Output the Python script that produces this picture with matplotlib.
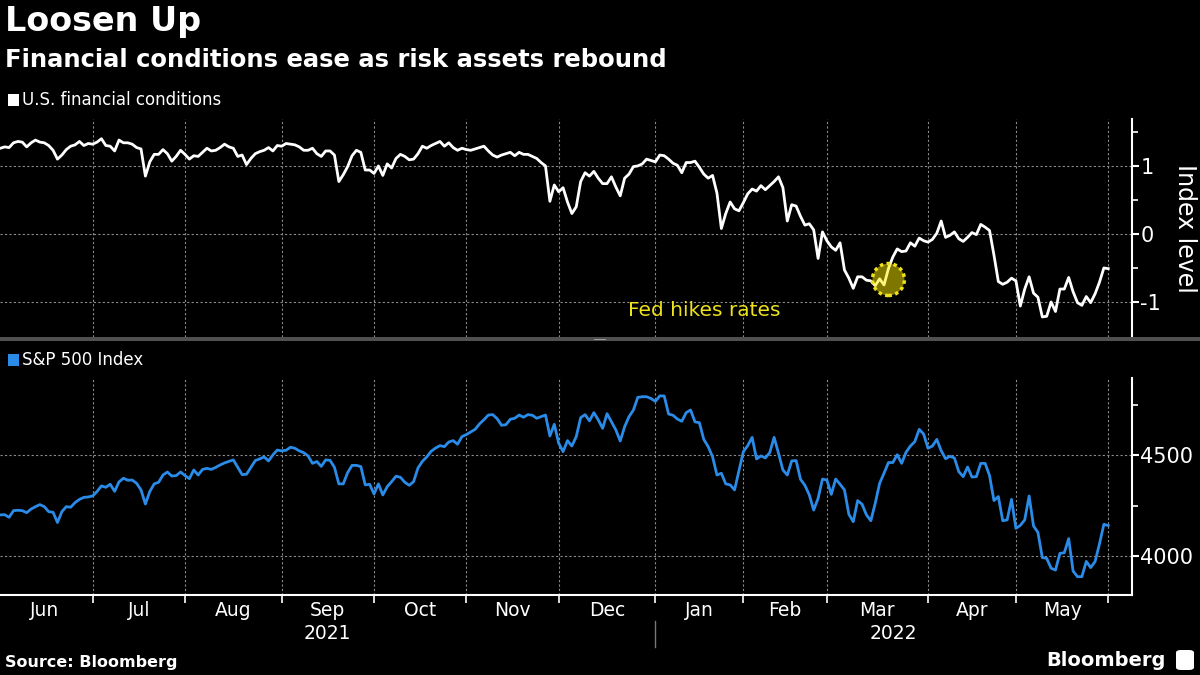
import numpy as np
import pandas as pd
import matplotlib
matplotlib.use('Agg')
from matplotlib import pyplot as plt
from matplotlib import transforms
from matplotlib.patches import Circle, Rectangle, FancyBboxPatch
from matplotlib.lines import Line2D

plt.rcParams['font.family'] = ['DejaVu Sans']
plt.rcParams['axes.unicode_minus'] = False

# NYSE trading days, Jun 2021 - May 2022
holidays = ['2021-07-05', '2021-09-06', '2021-11-25', '2021-12-24',
            '2022-01-17', '2022-02-21', '2022-04-15', '2022-05-30']
dates = pd.bdate_range('2021-06-01', '2022-05-31', freq='C', holidays=holidays)

# Bloomberg US financial conditions index
fci_jun21 = [1.26, 1.28, 1.27, 1.34, 1.36, 1.35, 1.28, 1.34, 1.38, 1.35, 1.34,
             1.30, 1.23, 1.10, 1.16, 1.24, 1.29, 1.31, 1.36, 1.30, 1.33, 1.32]
fci_jul21 = [1.35, 1.40, 1.30, 1.29, 1.22, 1.38, 1.34, 1.34, 1.32, 1.27, 1.25,
             0.85, 1.06, 1.17, 1.17, 1.24, 1.18, 1.07, 1.14, 1.23, 1.17]
fci_aug21 = [1.10, 1.15, 1.14, 1.20, 1.26, 1.22, 1.23, 1.27, 1.32, 1.28, 1.26,
             1.14, 1.16, 1.02, 1.11, 1.18, 1.21, 1.23, 1.27, 1.22, 1.30, 1.29]
fci_sep21 = [1.33, 1.32, 1.31, 1.28, 1.23, 1.23, 1.26, 1.18, 1.14, 1.22, 1.22,
             1.16, 0.77, 0.87, 0.99, 1.15, 1.23, 1.20, 0.94, 0.94, 0.89]
fci_oct21 = [1.00, 0.86, 1.03, 0.97, 1.11, 1.17, 1.14, 1.09, 1.10, 1.18, 1.29,
             1.26, 1.30, 1.33, 1.36, 1.29, 1.34, 1.27, 1.23, 1.26, 1.24]
fci_nov21 = [1.23, 1.25, 1.27, 1.29, 1.22, 1.16, 1.13, 1.16, 1.18, 1.20, 1.15,
             1.20, 1.17, 1.17, 1.14, 1.11, 1.05, 1.00, 0.48, 0.72, 0.62]
fci_dec21 = [0.68, 0.47, 0.30, 0.40, 0.77, 0.90, 0.85, 0.92, 0.82, 0.74, 0.74,
             0.84, 0.69, 0.56, 0.82, 0.88, 0.99, 1.00, 1.03, 1.10, 1.08, 1.06]
fci_jan22 = [1.16, 1.15, 1.10, 1.04, 1.01, 0.90, 1.05, 1.05, 1.07, 0.98,
             0.88, 0.82, 0.86, 0.60, 0.08, 0.30, 0.47, 0.37, 0.34, 0.46]
fci_feb22 = [0.59, 0.66, 0.63, 0.71, 0.65, 0.71, 0.77, 0.84, 0.68, 0.19,
             0.43, 0.41, 0.26, 0.13, 0.15, 0.06, -0.36, 0.03, -0.10]
fci_mar22 = [-0.19, -0.24, -0.13, -0.53, -0.65, -0.80, -0.63, -0.63, -0.68,
             -0.69, -0.76, -0.66, -0.75, -0.51, -0.34, -0.22, -0.26, -0.25,
             -0.13, -0.18, -0.06, -0.10, -0.12]
fci_apr22 = [-0.08, 0.01, 0.19, -0.05, -0.02, 0.03, -0.07, -0.11, -0.05, 0.02,
             -0.01, 0.14, 0.10, 0.05, -0.31, -0.70, -0.74, -0.71, -0.65, -0.69]
fci_may22 = [-1.06, -0.81, -0.63, -0.87, -0.93, -1.22, -1.21, -1.00, -1.14,
             -0.81, -0.81, -0.64, -0.85, -1.01, -1.05, -0.92, -1.01, -0.88,
             -0.71, -0.50, -0.51]

# S&P 500 index
spx_jun21 = [4204, 4205, 4192, 4225, 4227, 4225, 4215, 4233, 4245, 4255, 4245,
             4220, 4217, 4166, 4220, 4245, 4242, 4265, 4281, 4291, 4293, 4298]
spx_jul21 = [4320, 4348, 4341, 4356, 4321, 4368, 4386, 4376, 4377, 4361, 4328,
             4258, 4320, 4358, 4366, 4402, 4417, 4397, 4399, 4417, 4399]
spx_aug21 = [4384, 4427, 4402, 4430, 4435, 4430, 4440, 4452, 4462, 4470, 4477,
             4440, 4404, 4406, 4440, 4474, 4482, 4492, 4472, 4502, 4526, 4522]
spx_sep21 = [4525, 4540, 4535, 4522, 4513, 4497, 4460, 4469, 4445, 4477, 4475,
             4440, 4358, 4358, 4414, 4450, 4450, 4444, 4353, 4356, 4308]
spx_oct21 = [4358, 4303, 4344, 4369, 4396, 4391, 4366, 4351, 4369, 4437, 4470,
             4492, 4520, 4536, 4548, 4543, 4566, 4573, 4555, 4593, 4603]
spx_nov21 = [4616, 4629, 4656, 4677, 4700, 4702, 4682, 4649, 4652, 4679, 4684,
             4700, 4689, 4702, 4699, 4684, 4692, 4700, 4596, 4654, 4560]
spx_dec21 = [4518, 4573, 4546, 4593, 4687, 4702, 4671, 4712, 4676, 4634, 4707,
             4667, 4626, 4571, 4642, 4692, 4725, 4788, 4791, 4791, 4782, 4768]
spx_jan22 = [4795, 4795, 4705, 4699, 4680, 4669, 4712, 4725, 4666, 4662,
             4579, 4543, 4493, 4402, 4411, 4358, 4353, 4328, 4424, 4518]
spx_feb22 = [4548, 4589, 4482, 4497, 4487, 4513, 4589, 4510, 4427, 4402,
             4472, 4474, 4381, 4351, 4303, 4228, 4286, 4382, 4377]
spx_mar22 = [4306, 4382, 4356, 4328, 4207, 4170, 4275, 4257, 4204, 4175, 4262,
             4361, 4411, 4464, 4464, 4503, 4460, 4515, 4546, 4568, 4629, 4606,
             4535]
spx_apr22 = [4546, 4579, 4523, 4483, 4495, 4487, 4419, 4394, 4442, 4392,
             4394, 4460, 4460, 4399, 4275, 4295, 4175, 4179, 4281, 4137]
spx_may22 = [4152, 4179, 4298, 4149, 4117, 3992, 3988, 3939, 3930, 4013, 4016,
             4086, 3925, 3897, 3897, 3973, 3942, 3972, 4060, 4157, 4151]

fci = (fci_jun21 + fci_jul21 + fci_aug21 + fci_sep21 + fci_oct21 + fci_nov21 +
       fci_dec21 + fci_jan22 + fci_feb22 + fci_mar22 + fci_apr22 + fci_may22)
spx = (spx_jun21 + spx_jul21 + spx_aug21 + spx_sep21 + spx_oct21 + spx_nov21 +
       spx_dec21 + spx_jan22 + spx_feb22 + spx_mar22 + spx_apr22 + spx_may22)

month_names = ['Jun', 'Jul', 'Aug', 'Sep', 'Oct', 'Nov', 'Dec',
               'Jan', 'Feb', 'Mar', 'Apr', 'May']
fed_date = '2022-03-18'
fed_level = -0.67

WHITE = 'white'
BLUE = '#2a8ce8'
GRID = '#8a8a8a'
YELLOW = '#ede21c'

x = np.arange(len(dates))
# gridlines sit on the last trading day of each month
month_end = [i for i in range(len(dates) - 1) if dates[i].month != dates[i + 1].month]
month_end.append(len(dates) - 1)
xmin, xmax = -0.07, 257.4

W, H = 1200, 675
fig = plt.figure(figsize=(12, 6.75), dpi=100, facecolor='black')
ax1 = fig.add_axes([0, 1 - 337 / H, 1132 / W, (337 - 119) / H])
ax2 = fig.add_axes([0, 1 - 595 / H, 1132 / W, (595 - 378) / H])

ax1.plot(x, fci, color=WHITE, lw=2, zorder=3)
ax2.plot(x, spx, color=BLUE, lw=2, zorder=3)

ax1.set_ylim(-1.515, 1.69)
ax1.set_yticks([-1, 0, 1])
ax1.set_yticks([-0.5, 0.5, 1.5], minor=True)
ax2.set_ylim(3806, 4884)
ax2.set_yticks([4000, 4500])
ax2.set_yticks([4250, 4750], minor=True)

for ax in (ax1, ax2):
    ax.set_facecolor('black')
    ax.set_xlim(xmin, xmax)
    ax.set_xticks(month_end)
    for s in ['left', 'top', 'bottom']:
        ax.spines[s].set_visible(False)
    ax.spines['right'].set_color(WHITE)
    ax.spines['right'].set_linewidth(1.5)
    ax.yaxis.tick_right()
    ax.tick_params(axis='y', which='major', colors=WHITE, direction='out',
                   length=5, width=1.5, labelsize=15, pad=1)
    ax.tick_params(axis='y', which='minor', colors=WHITE, direction='out',
                   length=4, width=1.2)
    ax.tick_params(axis='x', labelbottom=False)
    ax.grid(True, which='major', color=GRID, linestyle=(0, (2, 2)), lw=0.8)

ax1.tick_params(axis='x', length=0)
ax2.spines['bottom'].set_visible(True)
ax2.spines['bottom'].set_color(WHITE)
ax2.spines['bottom'].set_linewidth(1.5)
ax2.tick_params(axis='x', colors=WHITE, direction='out', length=6, width=1.2)

# month labels centred between month ends, year labels under each year span
bt = transforms.blended_transform_factory(ax2.transData, ax2.transAxes)
bounds = [month_end[0] - 22] + month_end
for k, name in enumerate(month_names):
    ax2.text((bounds[k] + bounds[k + 1]) / 2, -0.072, name, transform=bt,
             ha='center', va='center', color=WHITE, fontsize=13.5)
dec_end = month_end[6]
ax2.text((xmin + dec_end) / 2, -0.178, '2021', transform=bt, ha='center',
         va='center', color=WHITE, fontsize=13.5)
ax2.text((dec_end + xmax) / 2, -0.178, '2022', transform=bt, ha='center',
         va='center', color=WHITE, fontsize=13.5)
ax2.add_line(Line2D([dec_end, dec_end], [-0.12, -0.24], transform=bt,
                    color='#777777', lw=1, clip_on=False))

# Fed hike annotation
fx = dates.get_loc(pd.Timestamp(fed_date))
ctr = fig.dpi_scale_trans + transforms.ScaledTranslation(fx, fed_level, ax1.transData)
ax1.add_patch(Circle((0, 0), 0.16, transform=ctr, facecolor=(1, 0.93, 0, 0.5),
                     edgecolor=YELLOW, linestyle=(0, (1, 1)), lw=2.5, zorder=4))
ax1.text(160, -1.12, 'Fed hikes rates', color=YELLOW, fontsize=14.5,
         ha='center', va='center')

# panel separator
fig.add_artist(Rectangle((0, 1 - 341 / H), 1, 4 / H, transform=fig.transFigure,
                         color='#505050', lw=0))
fig.add_artist(Rectangle((594 / W, 1 - 339.5 / H), 12 / W, 1 / H,
                         transform=fig.transFigure, color='#9a9a9a', lw=0))

# titles and legends
fig.text(5 / W, 1 - 21 / H, 'Loosen Up', color=WHITE, fontsize=24,
         weight='bold', va='center')
fig.text(5 / W, 1 - 60 / H, 'Financial conditions ease as risk assets rebound',
         color=WHITE, fontsize=17.5, weight='bold', va='center')
fig.add_artist(Rectangle((8 / W, 1 - 106 / H), 11 / W, 12 / H,
                         transform=fig.transFigure, color=WHITE, lw=0))
fig.text(22 / W, 1 - 100 / H, 'U.S. financial conditions', color=WHITE,
         fontsize=12, va='center')
fig.add_artist(Rectangle((8 / W, 1 - 366 / H), 11 / W, 12 / H,
                         transform=fig.transFigure, color=BLUE, lw=0))
fig.text(22 / W, 1 - 360 / H, 'S&P 500 Index', color=WHITE, fontsize=12,
         va='center')
fig.text(1185 / W, 1 - 228 / H, 'Index level', color=WHITE, fontsize=17,
         rotation=-90, ha='center', va='center')

# footer
fig.text(5 / W, 1 - 662 / H, 'Source: Bloomberg', color=WHITE, fontsize=11.5,
         weight='bold', va='center')
fig.text(1166 / W, 1 - 660 / H, 'Bloomberg', color=WHITE, fontsize=14,
         weight='bold', va='center', ha='right')
fig.add_artist(FancyBboxPatch((1176 / W, 1 - 670 / H), 18 / W, 20 / H,
                              boxstyle='round,pad=0,rounding_size=0.004',
                              transform=fig.transFigure, color=WHITE, lw=0))

fig.savefig('out.png', dpi=100, facecolor='black')
